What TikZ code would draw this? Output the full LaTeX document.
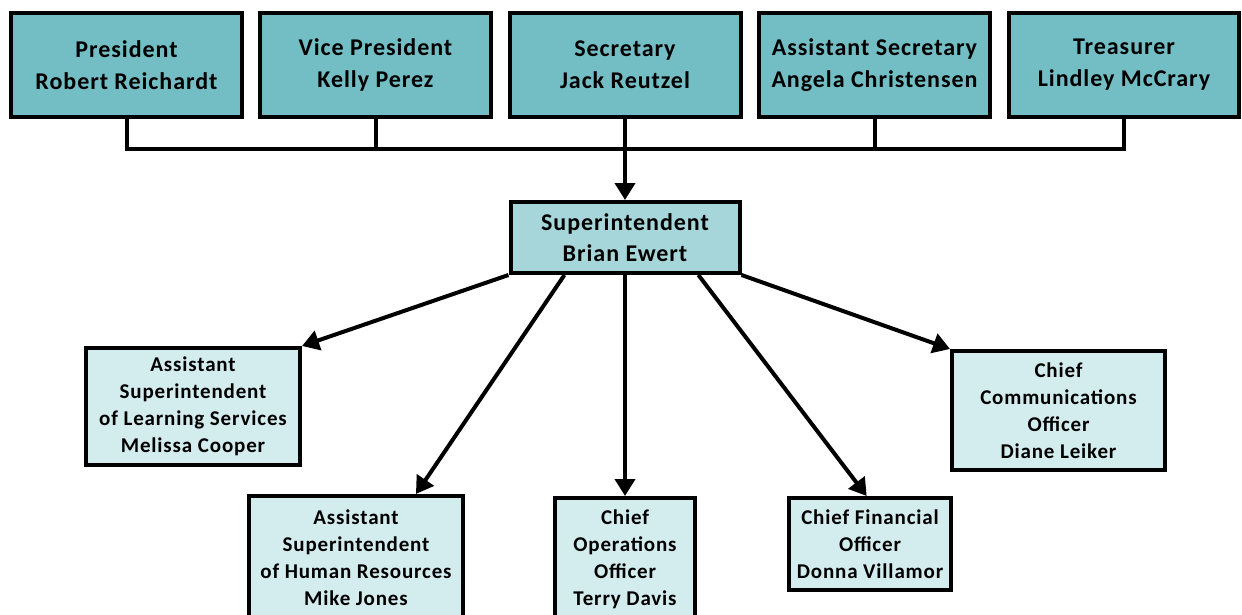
\documentclass[tikz,border=0pt]{standalone}
\usepackage{fontspec}
\setmainfont{Carlito}[LetterSpace=4]
\usetikzlibrary{arrows.meta,calc}
\definecolor{topc}{RGB}{114,190,196}
\definecolor{supc}{RGB}{166,214,218}
\definecolor{lowc}{RGB}{211,236,238}
\begin{document}
\begin{tikzpicture}[x=1pt,y=-1pt,
  box/.style={draw=black, line width=4pt, inner sep=0pt, align=center},
  topbox/.style={box, fill=topc, minimum width=231pt, minimum height=104pt, font=\bfseries\fontsize{24}{32}\selectfont},
  supbox/.style={box, fill=supc, minimum width=229pt, minimum height=71pt, font=\bfseries\fontsize{24}{31}\selectfont},
  lowbox/.style={box, fill=lowc, font=\bfseries\fontsize{21}{27}\selectfont},
  conn/.style={line width=4pt, line join=miter},
  arr/.style={line width=4pt, -{Triangle[length=17pt,width=20pt]}}]
\useasboundingbox (0,0) rectangle (1242,615);
\node[topbox] (p)   at (126.5,65) {President\\Robert Reichardt};
\node[topbox] (vp)  at (375.5,65) {Vice President\\Kelly Perez};
\node[topbox] (sec) at (625,65) {Secretary\\Jack Reutzel};
\node[topbox] (as)  at (874.5,65) {Assistant Secretary\\Angela Christensen};
\node[topbox, minimum width=230pt] (tr) at (1124,65) {Treasurer\\Lindley McCrary};
\coordinate (bus) at (625,149);
\draw[conn] (p.south) -- (p.south |- bus) -| (tr.south);
\draw[conn] (vp.south) -- (vp.south |- bus);
\draw[conn] (as.south) -- (as.south |- bus);
\node[supbox] (sup) at (625,237.5) {Superintendent\\Brian Ewert};
\draw[arr] (sec.south) -- (sup.north);
\node[lowbox, minimum width=214pt, minimum height=117pt] (learn) at (193,406.5)
  {Assistant\\Superintendent\\of Learning Services\\Melissa Cooper};
\node[lowbox, minimum width=214pt, minimum height=124pt] (hr) at (356,558)
  {Assistant\\Superintendent\\of Human Resources\\Mike Jones};
\node[lowbox, minimum width=140pt, minimum height=122pt] (ops) at (625,559)
  {Chief\\Operations\\Officer\\Terry Davis};
\node[lowbox, minimum width=162pt, minimum height=92pt] (fin) at (870,544)
  {Chief Financial\\Officer\\Donna Villamor};
\node[lowbox, minimum width=213pt, minimum height=119pt] (comm) at (1058.5,410.5)
  {Chief\\Communications\\Officer\\Diane Leiker};
\draw[arr] (sup.south west) -- (learn.north east);
\draw[arr] ($(sup.south west)!0.24!(sup.south east)$) -- ($(hr.north west)!0.775!(hr.north east)$);
\draw[arr] (sup.south) -- (ops.north);
\draw[arr] ($(sup.south west)!0.815!(sup.south east)$) -- ($(fin.north west)!0.48!(fin.north east)$);
\draw[arr] (sup.south east) -- (comm.north west);
\end{tikzpicture}
\end{document}
